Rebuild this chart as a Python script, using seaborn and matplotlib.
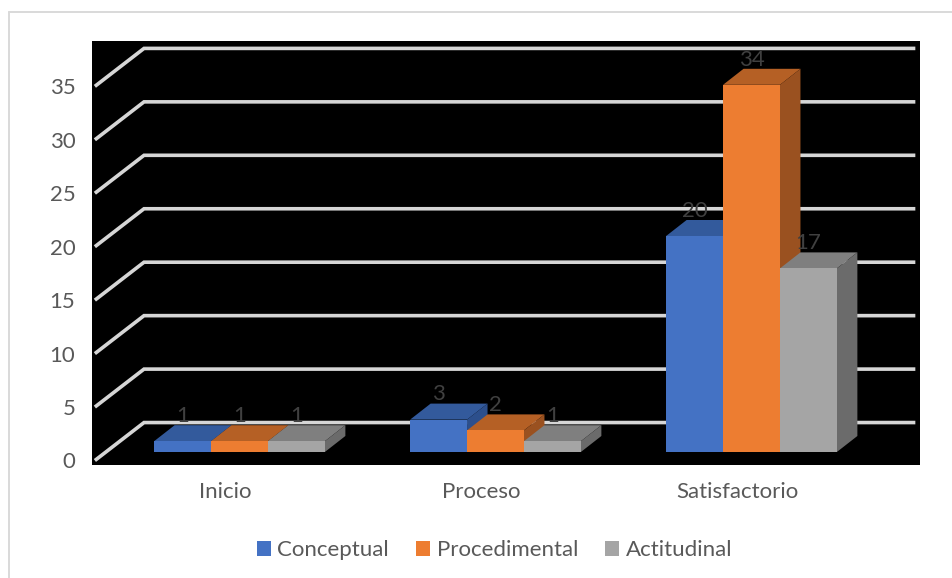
import matplotlib
matplotlib.use("Agg")
import matplotlib.pyplot as plt
import pandas as pd
import seaborn as sns
from matplotlib.lines import Line2D
from matplotlib.patches import Patch, Polygon

categories = ["Inicio", "Proceso", "Satisfactorio"]
conceptual = [1, 3, 20]
procedimental = [1, 2, 34]
actitudinal = [1, 1, 17]
axis_ticks = [0, 5, 10, 15, 20, 25, 30, 35]

series_names = ["Conceptual", "Procedimental", "Actitudinal"]
front_colors = ["#4472C4", "#ED7D31", "#A5A5A5"]
top_colors = ["#335A9C", "#B56025", "#7F7F7F"]
side_colors = ["#2C4F8C", "#9A5120", "#6B6B6B"]

W, H = 953, 578
sns.set_theme(style="white")
plt.rcParams["font.family"] = ["Lato", "DejaVu Sans"]
TEXT = "#595959"
FS = 16

df = pd.DataFrame({
    "categoria": categories * 3,
    "serie": [n for n in series_names for _ in categories],
    "valor": conceptual + procedimental + actitudinal,
})

fig = plt.figure(figsize=(W / 100, H / 100), dpi=100, facecolor="white")
rect = [92 / W, 1 - 465 / H, 828 / W, 424 / H]

# Chart frame
frame = dict(color="#d9d9d9", lw=1.4, transform=fig.transFigure)
fig.add_artist(Line2D([9 / W, 9 / W], [0, 1 - 12 / H], **frame))
fig.add_artist(Line2D([9 / W, 1], [1 - 12 / H, 1 - 12 / H], **frame))

# Rear layer: black wall, value scale and the bent gridlines
step = 256.0
x_min, x_max = (92 - 239.5) / step, (920 - 239.5) / step
wall = fig.add_axes(rect, facecolor="black")
wall.set_xlim(x_min, x_max)
wall.set_ylim((460.5 - 465) / 10.69, (460.5 - 41) / 10.69)
depth_x_front, depth_x_back, depth_x_end = -0.565, -0.373, 2.640
rise = 3.55
for v in axis_ticks:
    wall.plot([depth_x_front, depth_x_back, depth_x_end], [v, v + rise, v + rise],
              color="#d6d6d6", lw=2.6, solid_joinstyle="miter", solid_capstyle="butt")
wall.set_yticks(axis_ticks, [str(v) for v in axis_ticks])
wall.set_xticks([])
wall.tick_params(axis="y", length=0, pad=12, labelsize=FS, labelcolor=TEXT)
wall.grid(False)
for s in wall.spines.values():
    s.set_visible(False)

# Front layer: bars on their own scale, extruded from their drawn geometry
ax = fig.add_axes(rect, facecolor="none")
sns.barplot(data=df, x="categoria", y="valor", hue="serie", order=categories,
            hue_order=series_names, palette=front_colors, width=0.667, gap=0,
            saturation=1, legend=False, ax=ax, linewidth=0, zorder=3)
ax.set_xlim(x_min, x_max)
ax.set_ylim((452 - 465) / 10.8, (452 - 41) / 10.8)
ax.set_xlabel("")
ax.set_ylabel("")
ax.set_yticks([])
ax.set_xticks([i - 0.056 for i in range(len(categories))], categories)
ax.tick_params(axis="x", length=0, pad=12.5, labelsize=FS, labelcolor=TEXT)
for s in ax.spines.values():
    s.set_visible(False)

dx, dy = 20.5 / step, 16 / 10.8
for k, container in enumerate(ax.containers):
    for bar in container:
        bar.set_zorder(3 + k + 0.5)
        x0, x1 = bar.get_x(), bar.get_x() + bar.get_width()
        y1 = bar.get_height()
        ax.add_patch(Polygon([(x0, y1), (x1, y1), (x1 + dx, y1 + dy), (x0 + dx, y1 + dy)],
                             closed=True, facecolor=top_colors[k], edgecolor="none",
                             zorder=3 + k))
        ax.add_patch(Polygon([(x1, 0), (x1 + dx, dy), (x1 + dx, y1 + dy), (x1, y1)],
                             closed=True, facecolor=side_colors[k], edgecolor="none",
                             zorder=3 + k))
    for label in ax.bar_label(container, padding=11, fontsize=FS, color="#404040"):
        label.set_zorder(10)

# Legend
handles = [Patch(facecolor=c, edgecolor="none", label=n)
           for c, n in zip(front_colors, series_names)]
fig.legend(handles=handles, ncol=3, frameon=False, fontsize=FS, labelcolor=TEXT,
           loc="center", bbox_to_anchor=(494.5 / W, 1 - 550.5 / H),
           handlelength=0.64, handleheight=0.64, handletextpad=0.28, columnspacing=1.22,
           borderpad=0, borderaxespad=0)

fig.savefig("out.png", dpi=100, facecolor="white")
